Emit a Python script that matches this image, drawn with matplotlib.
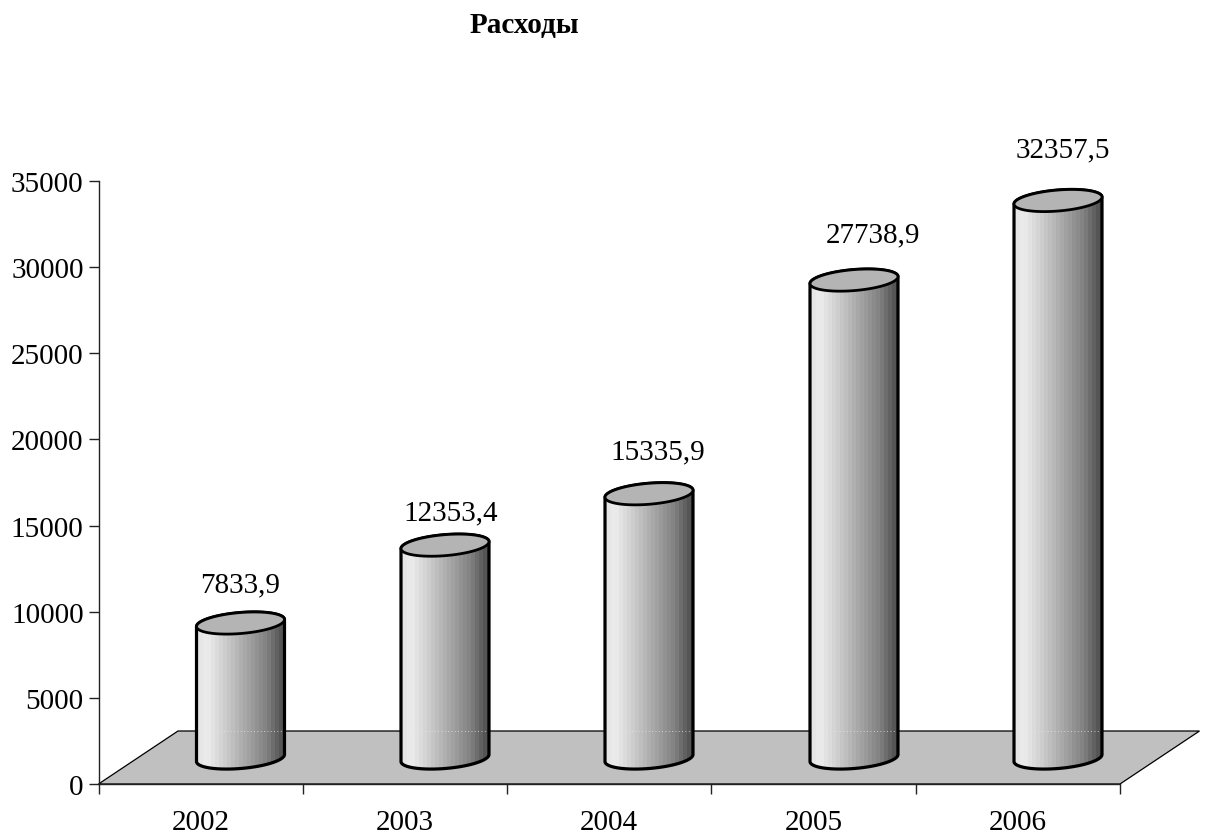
import numpy as np
import matplotlib
matplotlib.use("Agg")
import matplotlib.pyplot as plt
from matplotlib.patches import Polygon
from matplotlib.colors import LinearSegmentedColormap

years = ["2002", "2003", "2004", "2005", "2006"]
values = [7833.9, 12353.4, 15335.9, 27738.9, 32357.5]
value_labels = ["7833,9", "12353,4", "15335,9", "27738,9", "32357,5"]
y_ticks = [0, 5000, 10000, 15000, 20000, 25000, 30000, 35000]
title = "Расходы"

W, H = 1206, 837
plt.rcParams["font.family"] = ["Liberation Serif", "DejaVu Serif"]
fig = plt.figure(figsize=(W / 100, H / 100), dpi=100)
L, R, T, B = 98.5, 1120, 182, 785
ax = fig.add_axes([L / W, 1 - B / H, (R - L) / W, (B - T) / H])
ax.set_xlim(0, 5)
ax.set_ylim(0, 35000)
px = (R - L) / 5            # pixels per category
py = (B - T) / 35000        # pixels per value unit

ax.set_xticks(range(6))
ax.set_xticklabels([])
ax.set_yticks(y_ticks)
ax.tick_params(axis="y", length=7.5, width=1, labelsize=21, pad=3.2, color="#222222")
ax.tick_params(axis="x", length=7.2, width=1, color="#222222")
for s in ("top", "right"):
    ax.spines[s].set_visible(False)
for s in ("left", "bottom"):
    ax.spines[s].set_color("#222222")
    ax.spines[s].set_linewidth(1)
ax.patch.set_alpha(0)
for i, y in enumerate(years):
    ax.annotate(y, (i + 0.5, 0), xytext=(0, -45 * 0.72), textcoords="offset points",
                ha="center", va="baseline", fontsize=21, color="black", annotation_clip=False)

# floor
fdx, fdy = 79.5 / px, 53 / py
ax.add_patch(Polygon([(0, 0), (fdx, fdy), (5 + fdx, fdy), (5, 0)], closed=True,
                     facecolor="#c0c0c0", edgecolor="black", lw=0.9, clip_on=False, zorder=1))

# cylinders
cmap = LinearSegmentedColormap.from_list("cyl", [
    (0.0, "#e4e4e4"), (0.12, "#ececec"), (0.25, "#d8d8d8"), (0.42, "#bdbdbd"),
    (0.6, "#a0a0a0"), (0.8, "#808080"), (0.93, "#5c5c5c"), (1.0, "#4a4a4a")])
grad = np.round(np.linspace(0, 1, 44) * 22) / 22
grad = grad[np.newaxis, :]
half = 44 / px
b = 10.5 / py
skew = 3.5 / py
base = 26 / py
centers_px = [240.5, 445, 649, 854, 1058]
t = np.linspace(0, 2 * np.pi, 181)
for i, v in enumerate(values):
    cx = (centers_px[i] - L) / px
    ex = cx + half * np.cos(t)
    e_off = b * np.sin(t) + skew * np.cos(t)
    top_y = base + v + e_off
    bot_y = base + e_off
    lower = t >= np.pi
    upper = t <= np.pi
    xs = np.r_[ex[lower], ex[upper]]
    ys = np.r_[bot_y[lower], top_y[upper]]
    body = Polygon(np.c_[xs, ys], closed=True, facecolor="none", edgecolor="black",
                   lw=2.3, zorder=3, clip_on=False, joinstyle="round")
    ax.add_patch(body)
    im = ax.imshow(grad, extent=(cx - half, cx + half, 0, 36000), cmap=cmap, vmin=0, vmax=1,
                   aspect="auto", zorder=2.5, interpolation="nearest", clip_on=True)
    im.set_clip_path(Polygon(np.c_[xs, ys], closed=True, transform=ax.transData))
    ax.plot([cx - half, cx + half], [fdy, fdy], color="#e6e6e6", lw=0.6, ls=(0, (1, 3)), zorder=2.8)
    ax.add_patch(Polygon(np.c_[ex, top_y], closed=True, facecolor="#b4b4b4", edgecolor="black",
                         lw=2.0, zorder=4, clip_on=False))

ax.set_xlim(0, 5)
ax.set_ylim(0, 35000)

label_x = [240, 451, 658, 873, 1063]
label_y = [585, 513, 452, 235, 150]
for txt, lx, ly in zip(value_labels, label_x, label_y):
    fig.text(lx / W, 1 - ly / H, txt, ha="center", va="center", fontsize=21, color="black")

fig.text(524 / W, 1 - 33 / H, title, ha="center", va="baseline", fontsize=21,
         fontweight="bold", color="black")

fig.savefig("out.png", dpi=100, facecolor="white")
